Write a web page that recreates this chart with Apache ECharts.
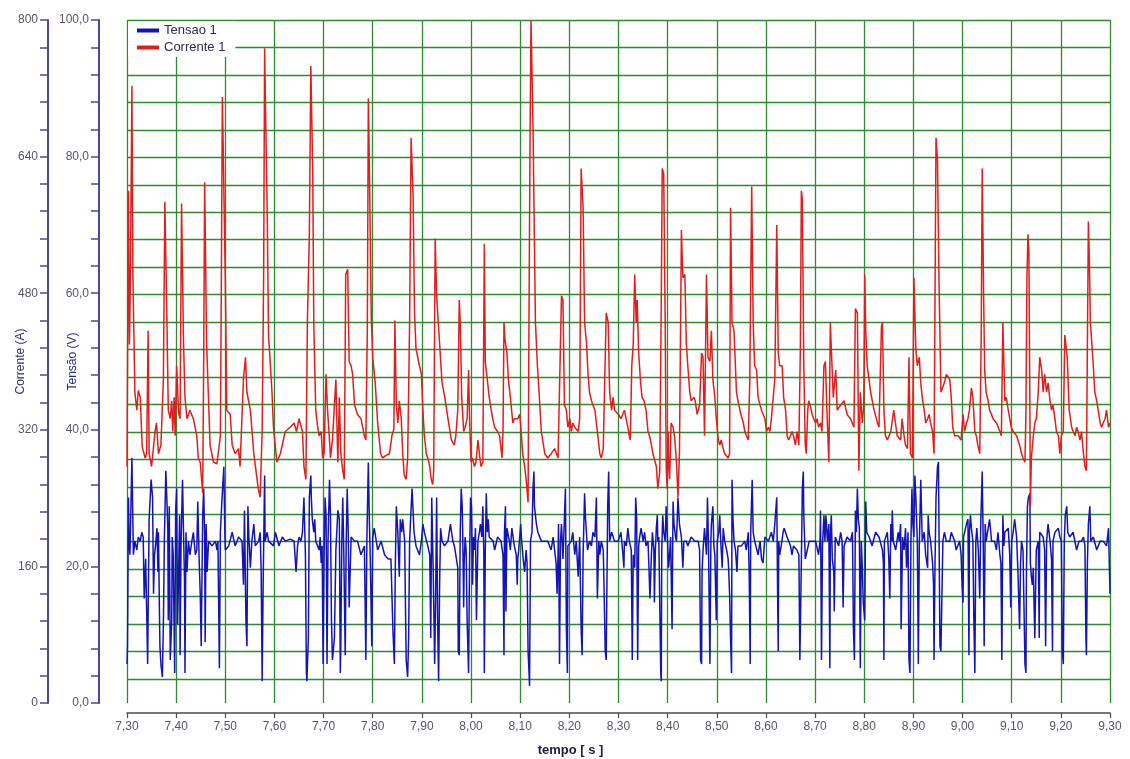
<!DOCTYPE html>
<html><head><meta charset="utf-8">
<script src="https://cdn.jsdelivr.net/npm/echarts@6/dist/echarts.min.js"></script>
<style>html,body{margin:0;padding:0;background:#fff}#c{width:1130px;height:759px}</style>
</head><body><div id="c"></div>
<script>
const timeMin = 7.30, timeMax = 9.30, timeStep = 0.10;
const tensaoMin = 0, tensaoMax = 100, tensaoStep = 20;
const correnteMin = 0, correnteMax = 800, correnteStep = 160;
const seriesNames = ['Tensao 1', 'Corrente 1'];

const correnteTime = [
7.300,7.303,7.305,7.307,7.310,7.312,7.316,7.320,7.323,7.327,7.331,7.337,7.340,7.343,7.345,7.350,7.357,7.360,7.364,7.369,
7.374,7.377,7.381,7.384,7.388,7.391,7.393,7.396,7.398,7.401,7.405,7.408,7.411,7.415,7.418,7.422,7.428,7.435,7.442,7.445,
7.449,7.454,7.456,7.458,7.462,7.469,7.476,7.483,7.490,7.492,7.494,7.496,7.500,7.503,7.510,7.514,7.520,7.527,7.530,7.537,
7.541,7.544,7.551,7.558,7.567,7.571,7.575,7.578,7.580,7.582,7.585,7.588,7.595,7.598,7.605,7.612,7.622,7.632,
7.640,7.645,7.650,7.657,7.660,7.664,7.667,7.671,7.674,7.675,7.678,7.680,7.684,7.688,7.691,7.695,7.698,7.701,7.705,7.708,
7.711,7.714,7.718,7.725,7.729,7.732,7.735,7.739,7.742,7.745,7.749,7.752,7.756,7.759,7.763,7.769,7.776,7.783,7.786,7.789,
7.791,7.793,7.797,7.800,7.805,7.809,7.810,7.816,7.820,7.827,7.834,7.839,7.843,7.845,7.848,7.851,7.854,7.858,7.861,7.864,
7.868,7.871,7.875,7.878,7.882,7.885,7.888,7.895,7.899,7.902,7.905,7.909,7.912,7.916,7.919,7.922,7.924,7.927,7.930,7.936,
7.941,7.946,7.953,7.960,
7.966,7.969,7.973,7.976,7.978,7.981,7.985,7.988,7.992,7.995,7.997,8.000,8.003,8.007,8.010,8.014,8.017,8.020,8.024,8.027,
8.029,8.033,8.037,8.041,8.044,8.048,8.054,8.058,8.063,8.065,8.067,8.069,8.073,8.076,8.080,8.085,8.088,8.095,8.099,8.102,
8.105,8.109,8.112,8.116,8.118,8.120,8.122,8.126,8.129,8.131,8.135,8.139,8.143,8.150,8.156,8.163,8.170,8.177,8.184,8.187,
8.190,8.194,8.197,8.201,8.204,8.207,8.211,8.218,8.221,8.224,8.228,8.231,8.235,8.238,8.241,8.245,8.248,8.252,8.258,8.262,
8.265,8.269,8.272,8.275,8.279,8.282,8.286,8.289,8.292,
8.300,8.305,8.312,8.319,8.322,8.324,8.327,8.330,8.333,8.336,8.338,8.341,8.345,8.348,8.352,8.356,8.360,8.363,8.367,8.370,
8.373,8.377,8.380,8.384,8.387,8.389,8.392,8.395,8.397,8.399,8.401,8.402,8.404,8.407,8.411,8.414,8.418,8.421,8.424,8.428,
8.431,8.435,8.438,8.441,8.445,8.448,8.454,8.456,8.460,8.465,8.469,8.472,8.475,8.479,8.482,8.486,8.489,8.492,8.496,8.499,
8.503,8.506,8.509,8.513,8.516,8.523,8.526,8.528,8.531,8.535,8.540,8.543,8.549,8.554,8.557,8.560,8.564,8.567,8.571,8.574,
8.577,8.581,8.584,8.588,8.591,8.598,8.601,8.605,8.608,8.611,8.618,8.622,8.625,8.628,
8.633,8.636,8.640,8.643,8.646,8.650,8.653,8.656,8.660,8.663,8.667,8.670,8.672,8.674,8.677,8.680,8.682,8.685,8.687,8.690,
8.694,8.697,8.701,8.704,8.707,8.711,8.714,8.718,8.721,8.724,8.728,8.731,8.733,8.737,8.739,8.742,8.745,8.752,8.759,8.765,
8.772,8.779,8.782,8.786,8.789,8.792,8.796,8.799,8.801,8.803,8.806,8.813,8.820,8.827,8.830,8.835,8.837,8.840,8.843,8.847,
8.854,8.860,8.867,8.874,8.877,8.881,8.884,8.888,8.891,8.894,8.898,8.901,8.905,8.908,8.912,8.915,8.918,8.922,8.925,8.929,
8.932,8.935,8.939,8.942,8.946,8.949,8.952,8.956,
8.960,8.963,8.967,8.970,8.974,8.977,8.980,8.984,8.991,8.994,8.997,9.001,9.004,9.008,9.011,9.014,9.018,9.021,9.025,9.028,
9.031,9.035,9.038,9.040,9.043,9.045,9.048,9.052,9.055,9.059,9.062,9.069,9.076,9.079,9.082,9.086,9.089,9.093,9.096,9.099,
9.103,9.110,9.116,9.120,9.123,9.127,9.129,9.131,9.133,9.135,9.137,9.138,9.140,9.144,9.147,9.150,9.154,9.157,9.161,9.164,
9.167,9.171,9.174,9.178,9.181,9.184,9.188,9.191,9.195,9.198,9.201,9.205,9.208,9.210,9.213,9.217,9.222,9.225,9.229,9.232,
9.235,9.239,9.242,9.246,9.249,9.252,9.256,9.258,9.260,9.263,9.266,9.269,9.273,9.276,9.280,9.283,9.286,9.290,9.293,9.297,
9.300
];
const corrente = [
277,600,420,500,723,502,364,343,366,358,300,287,292,436,292,277,318,328,292,302,
379,587,457,343,333,354,318,358,313,395,340,333,585,421,358,333,343,333,313,287,
282,246,400,610,421,302,282,280,313,500,710,640,498,343,338,302,292,298,277,380,
405,364,343,292,251,241,320,500,767,690,587,431,364,323,282,292,318,323,
328,318,333,318,277,262,446,549,746,716,615,446,343,323,313,318,287,292,385,343,
318,287,308,379,282,358,292,272,262,502,508,400,395,385,349,338,333,313,308,440,
708,636,452,405,375,375,328,292,287,290,292,313,321,448,349,328,354,333,292,267,
262,287,446,662,595,457,415,395,385,343,313,292,287,277,262,256,272,544,477,421,
375,360,333,308,
302,313,343,472,446,358,318,323,333,390,333,282,287,277,282,308,292,277,282,538,
400,379,358,343,333,323,318,313,287,318,446,426,410,379,358,328,333,333,338,318,
292,277,262,235,466,657,800,678,538,446,395,358,318,292,287,292,298,287,477,472,
349,343,323,333,318,328,323,318,333,626,580,446,421,385,364,354,349,343,313,292,
287,298,379,457,446,364,343,358,343,
338,333,343,323,313,308,395,421,502,446,472,410,375,358,354,343,318,313,302,292,
292,277,251,272,472,626,620,446,277,251,318,282,262,328,323,313,282,241,292,554,
498,502,421,395,364,354,358,354,338,349,410,405,313,502,405,400,436,379,358,333,
308,302,308,298,292,287,292,580,446,436,364,354,338,328,318,313,308,375,605,446,
395,390,358,349,343,333,318,323,318,333,379,560,410,395,
395,358,343,313,308,313,318,313,302,318,302,415,600,590,395,302,292,343,354,349,
338,333,328,333,323,328,318,395,400,343,282,446,415,358,358,390,343,349,354,338,
333,323,462,457,272,364,328,349,502,436,395,364,343,328,323,441,446,343,313,308,
318,343,313,308,333,313,302,298,405,292,287,498,415,395,405,375,358,343,328,333,
338,328,318,292,662,636,498,364,
364,375,385,385,379,358,323,313,313,313,308,338,318,328,333,343,369,358,318,313,
302,292,431,626,472,390,364,354,343,338,333,328,318,313,446,354,358,343,343,323,
318,313,302,292,287,282,343,498,549,528,343,230,287,313,328,333,364,405,390,364,
385,364,375,354,343,349,333,318,313,292,313,318,431,431,405,343,323,318,313,323,
318,308,318,292,277,272,564,518,446,421,395,364,354,343,328,323,328,333,343,323,
328
];

const tensaoTime = [
7.300,7.301,7.303,7.304,7.306,7.310,7.313,7.316,7.320,7.323,7.327,7.330,7.333,7.335,7.338,7.342,7.345,7.349,7.352,7.354,
7.356,7.358,7.361,7.363,7.364,7.366,7.367,7.369,7.372,7.374,7.376,7.379,7.381,7.383,7.384,7.386,7.388,7.391,7.392,7.394,
7.397,7.399,7.401,7.403,7.405,7.407,7.408,7.410,7.413,7.415,7.417,7.418,7.420,7.422,7.425,7.428,7.432,7.435,7.439,7.442,
7.444,7.447,7.449,7.451,7.454,7.456,7.458,7.459,7.461,7.463,7.466,7.473,7.480,7.483,7.485,7.488,7.490,7.493,7.497,7.499,
7.500,7.507,7.514,7.520,7.527,7.534,7.537,7.539,7.542,7.544,7.546,7.548,7.551,7.554,7.558,7.561,7.568,7.571,7.573,7.575,
7.577,7.580,7.581,7.585,7.588,7.598,7.602,7.609,7.616,7.622,7.632,
7.640,7.644,7.647,7.650,7.654,7.657,7.660,7.663,7.665,7.666,7.669,7.671,7.674,7.675,7.677,7.680,7.682,7.684,7.691,7.693,
7.695,7.697,7.699,7.701,7.703,7.705,7.707,7.709,7.712,7.714,7.716,7.718,7.722,7.725,7.729,7.732,7.734,7.735,7.737,7.739,
7.741,7.744,7.746,7.748,7.750,7.752,7.756,7.763,7.769,7.776,7.783,7.786,7.788,7.791,7.793,7.795,7.798,7.800,7.803,7.810,
7.817,7.824,7.831,7.837,7.841,7.844,7.846,7.848,7.851,7.854,7.856,7.859,7.861,7.865,7.866,7.868,7.871,7.873,7.875,7.877,
7.880,7.882,7.884,7.888,7.895,7.899,7.902,7.905,7.912,7.916,7.918,7.920,7.923,7.926,7.928,7.930,7.932,7.934,7.936,7.938,
7.941,7.946,7.953,7.958,
7.963,7.966,7.969,7.973,7.974,7.976,7.978,7.980,7.982,7.983,7.985,7.986,7.988,7.990,7.992,7.995,7.997,7.999,8.001,8.003,
8.005,8.007,8.009,8.011,8.014,8.017,8.019,8.022,8.024,8.026,8.027,8.029,8.031,8.033,8.035,8.037,8.041,8.045,8.048,8.054,
8.061,8.065,8.067,8.068,8.070,8.071,8.073,8.078,8.080,8.083,8.088,8.092,8.094,8.095,8.097,8.101,8.103,8.106,8.109,8.112,
8.114,8.116,8.118,8.119,8.121,8.124,8.126,8.128,8.129,8.133,8.136,8.143,8.150,8.156,8.163,8.167,8.173,8.175,8.177,8.178,
8.180,8.182,8.184,8.187,8.189,8.192,8.194,8.196,8.197,8.204,8.207,8.211,8.214,8.218,8.221,8.224,8.226,8.228,8.231,8.233,
8.237,8.241,8.245,8.248,8.252,8.255,8.257,8.260,8.262,8.265,8.269,8.271,8.273,8.275,8.278,8.280,8.282,8.286,8.292,
8.299,8.302,8.305,8.309,8.311,8.312,8.316,8.319,8.322,8.326,8.328,8.330,8.333,8.335,8.337,8.339,8.341,8.343,8.346,8.350,
8.353,8.356,8.360,8.362,8.364,8.367,8.369,8.372,8.373,8.375,8.377,8.379,8.380,8.382,8.386,8.387,8.388,8.390,8.392,8.395,
8.397,8.399,8.402,8.404,8.406,8.409,8.411,8.413,8.416,8.418,8.421,8.424,8.428,8.431,8.433,8.438,8.441,8.448,8.455,8.462,
8.465,8.467,8.469,8.470,8.472,8.475,8.479,8.481,8.483,8.486,8.488,8.489,8.492,8.494,8.496,8.499,8.501,8.504,8.506,8.508,
8.511,8.513,8.516,8.520,8.523,8.524,8.526,8.528,8.530,8.531,8.533,8.535,8.538,8.541,8.543,8.550,8.557,8.560,8.564,8.566,
8.568,8.569,8.572,8.574,8.577,8.584,8.588,8.591,8.594,8.598,8.605,8.611,8.615,8.618,8.622,8.624,8.625,8.626,
8.628,8.631,8.635,8.637,8.643,8.650,8.653,8.656,8.663,8.667,8.669,8.670,8.672,8.674,8.676,8.677,8.680,8.682,8.688,8.694,
8.701,8.707,8.710,8.711,8.713,8.715,8.718,8.720,8.722,8.725,8.728,8.730,8.731,8.733,8.735,8.738,8.739,8.741,8.748,8.752,
8.755,8.757,8.759,8.765,8.772,8.776,8.778,8.780,8.782,8.784,8.786,8.788,8.790,8.792,8.794,8.796,8.798,8.801,8.803,8.805,
8.810,8.816,8.823,8.830,8.837,8.839,8.840,8.841,8.847,8.850,8.852,8.854,8.856,8.857,8.859,8.864,8.869,8.871,8.874,8.875,
8.878,8.881,8.884,8.886,8.889,8.891,8.893,8.895,8.897,8.899,8.901,8.903,8.905,8.908,8.910,8.912,8.915,8.918,8.922,8.925,
8.929,8.930,8.932,8.935,8.939,8.941,8.942,8.944,8.946,8.949,8.951,8.954,8.956,
8.960,8.963,8.967,8.974,8.977,8.984,8.987,8.994,8.997,8.999,9.001,9.002,9.008,9.011,9.013,9.014,9.016,9.018,9.021,9.023,
9.025,9.027,9.029,9.032,9.035,9.037,9.040,9.042,9.044,9.046,9.048,9.055,9.059,9.065,9.069,9.072,9.076,9.078,9.080,9.082,
9.084,9.086,9.093,9.096,9.098,9.100,9.103,9.106,9.110,9.113,9.115,9.116,9.118,9.120,9.123,9.127,9.129,9.130,9.132,9.134,
9.137,9.138,9.140,9.142,9.144,9.147,9.150,9.154,9.156,9.157,9.164,9.167,9.169,9.171,9.174,9.178,9.181,9.183,9.184,9.188,
9.195,9.198,9.201,9.203,9.205,9.207,9.209,9.212,9.214,9.218,9.225,9.232,9.237,9.242,9.246,9.249,9.251,9.252,9.254,9.256,
9.259,9.261,9.266,9.273,9.280,9.286,9.293,9.297,9.300
];
const tensao = [
5.7,8.3,30.1,24.3,21.7,35.9,21.7,23.7,22.4,24.3,23.7,25.0,24.3,15.3,21.1,5.7,26.9,32.7,30.1,16.0,
21.7,23.0,25.6,19.2,25.0,13.4,8.3,5.7,3.8,11.5,23.7,34.0,30.1,25.6,12.1,28.8,6.3,12.1,24.3,21.7,
4.4,28.2,31.4,11.5,19.2,27.5,7.0,23.7,32.7,25.0,17.9,4.4,25.0,19.2,23.7,21.7,23.7,25.0,21.7,22.4,
29.5,20.5,16.0,8.3,27.5,31.4,24.3,8.9,26.2,19.2,23.7,23.0,23.7,22.4,23.7,5.1,25.0,29.5,34.6,25.0,
22.4,23.0,25.0,23.0,24.3,23.7,17.3,28.2,12.1,8.3,28.8,24.3,19.8,23.7,26.2,23.0,23.7,25.0,19.2,3.2,
17.3,33.3,23.7,25.0,23.7,23.0,25.0,23.0,24.3,23.7,24.0,
23.7,19.2,23.0,24.3,23.7,25.0,30.1,21.7,4.4,3.2,9.5,30.1,33.3,30.1,26.9,25.0,26.9,23.7,22.4,24.3,
20.5,23.0,5.7,21.7,30.1,27.5,5.7,23.7,32.7,27.5,12.1,6.3,9.5,22.4,28.2,26.9,4.4,8.3,23.7,30.1,
22.4,7.0,23.7,31.4,25.6,14.0,24.3,23.7,23.7,21.7,23.0,6.3,23.7,35.2,26.9,21.1,8.3,24.3,25.6,22.4,
23.7,21.7,21.1,21.1,10.8,5.7,20.5,28.8,25.0,18.5,26.9,25.0,26.9,23.7,17.3,6.3,3.8,9.5,23.7,26.9,
31.4,28.2,25.0,23.0,21.7,23.7,26.2,25.0,23.0,21.7,9.5,30.1,19.2,5.7,16.0,30.1,12.1,3.2,17.3,25.6,
23.7,23.0,23.7,26.2,
23.7,23.0,21.7,19.8,7.6,7.0,25.0,31.4,28.8,25.0,14.0,20.5,24.3,22.4,12.1,4.4,21.1,30.1,28.8,17.3,
24.3,22.4,25.6,12.1,23.7,25.0,26.2,24.3,28.8,21.7,4.4,22.4,30.7,25.0,26.9,24.3,24.3,23.7,22.4,24.3,
23.7,21.7,7.0,25.0,28.8,13.4,25.6,23.7,22.4,25.6,23.0,21.7,17.3,21.1,22.4,26.2,23.7,21.1,19.2,22.4,
20.5,7.6,4.4,2.5,23.7,25.0,31.4,33.9,28.8,26.2,25.0,23.7,23.7,23.7,22.4,24.3,20.5,16.0,21.7,26.2,
5.7,23.7,26.2,21.1,25.0,31.4,10.8,4.4,23.0,23.7,25.0,21.7,23.7,18.5,24.3,10.8,7.0,21.7,30.7,26.9,
22.4,23.7,23.0,25.0,24.3,30.1,15.3,23.7,21.7,23.7,22.4,15.3,7.6,6.3,28.8,33.9,23.7,25.0,23.7,
23.7,24.3,25.0,21.7,19.8,23.7,23.0,25.6,23.7,22.4,6.3,21.7,19.8,30.1,26.9,6.3,23.0,24.3,25.6,23.7,
25.0,23.0,23.7,19.8,15.3,21.7,25.0,22.4,14.7,22.4,25.6,27.5,23.7,24.3,4.4,3.2,22.4,27.5,25.0,23.7,
28.8,25.0,19.8,21.7,24.3,10.8,29.5,26.2,24.3,23.7,30.1,26.2,24.3,19.8,23.7,23.7,23.0,24.3,23.7,23.7,
22.4,6.3,5.7,19.2,22.4,25.6,21.7,30.1,23.7,5.7,23.7,26.2,28.8,23.0,21.7,12.1,23.7,25.0,27.5,23.7,
19.8,25.6,23.7,22.4,21.1,19.8,16.0,9.5,4.4,32.7,26.9,23.7,22.4,19.2,23.0,23.0,23.7,22.4,25.0,18.5,
5.7,25.0,32.7,25.0,23.7,21.7,23.7,21.1,20.5,24.3,23.7,25.0,23.7,26.2,30.1,14.0,7.6,23.7,
21.7,23.0,25.0,25.6,24.3,23.0,21.7,23.0,22.4,21.7,6.3,10.8,20.5,31.4,33.9,27.5,21.1,21.7,23.7,23.7,
23.7,21.7,23.7,28.2,6.3,23.0,27.5,23.7,27.5,23.7,26.2,5.1,24.3,27.5,21.1,19.2,13.4,24.3,23.0,25.0,
23.7,14.0,23.0,24.3,23.7,25.0,10.8,6.3,28.2,25.0,31.4,26.9,25.6,5.1,23.7,19.8,14.7,12.1,29.5,25.0,
24.3,23.0,25.0,24.3,22.4,20.5,6.3,23.7,25.0,21.1,15.3,26.2,23.7,28.2,23.7,22.4,25.0,23.7,26.2,10.8,
24.3,22.4,25.6,19.8,25.0,6.3,4.4,23.7,31.4,26.2,24.3,33.3,30.1,23.7,5.7,23.0,32.7,23.7,25.0,21.7,
19.8,27.5,25.0,23.7,20.5,17.3,6.3,20.5,30.1,34.6,35.3,8.3,7.6,
23.7,25.0,23.7,23.7,25.0,23.7,22.4,23.7,21.7,17.3,14.7,24.3,26.2,26.9,7.0,25.0,27.5,25.6,23.7,12.1,
4.4,23.7,25.6,22.4,15.3,26.2,33.9,23.7,8.3,26.2,23.7,26.9,23.7,23.7,22.4,25.0,21.7,20.5,6.3,27.5,
23.0,25.0,25.6,21.7,14.0,23.7,25.0,26.9,24.3,18.5,13.4,10.8,20.5,23.7,22.4,5.7,4.4,19.2,28.8,30.1,
30.7,20.5,18.5,17.3,19.8,9.5,22.4,23.7,9.5,25.0,24.3,22.4,8.3,23.7,26.2,23.7,21.1,7.6,23.7,25.0,
25.6,24.3,23.7,7.6,5.7,23.7,27.5,28.8,25.0,24.3,25.0,22.4,23.7,23.7,24.3,23.0,9.5,7.0,20.5,26.2,
28.8,23.7,24.3,22.4,23.7,23.7,23.0,25.6,16.0
];

function zip(xs, ys) { return xs.map((x, i) => [x, ys[i]]); }
const comma = (v, d) => v.toFixed(d).replace('.', ',');

const FONT = 'Liberation Sans';
const GREEN = '#2f8a2f';
const AXIS = '#4a4a9c';
const BLUE = '#1414b4';
const RED = '#e01e1e';

const chart = echarts.init(document.getElementById('c'), null, {renderer: 'canvas'});
chart.setOption({
  animation: false,
  backgroundColor: '#ffffff',
  textStyle: {fontFamily: FONT},
  grid: [
    {left: 127, right: 20, top: 20, bottom: 56, containLabel: false, outerBoundsMode: 'none'},
    {left: 127, right: 20, top: 20, bottom: 80, containLabel: false, outerBoundsMode: 'none'}
  ],
  legend: {
    data: seriesNames,
    left: 128, top: 21, orient: 'vertical',
    icon: 'rect', itemWidth: 22, itemHeight: 4, itemGap: 4,
    padding: [3, 10, 3, 9],
    backgroundColor: '#ffffff',
    textStyle: {fontSize: 13, color: '#2a2a5c', fontFamily: FONT}
  },
  xAxis: [
    {
      gridIndex: 0, type: 'value', min: timeMin, max: timeMax, interval: timeStep,
      offset: 10,
      axisLine: {show: true, onZero: false, lineStyle: {color: '#4a4a5a', width: 1.5}},
      axisTick: {show: true, length: 5, lineStyle: {color: '#4a4a5a', width: 1.2}},
      axisLabel: {margin: 8, color: '#55556a', fontSize: 12, formatter: v => comma(v, 2)},
      splitLine: {show: true, lineStyle: {color: GREEN, width: 1.3}},
      name: 'tempo [ s ]', nameLocation: 'middle', nameGap: 31, nameMoveOverlap: false,
      nameTextStyle: {fontWeight: 'bold', fontSize: 13, color: '#1c1c3c', padding: [0, 96, 0, 0]}
    },
    {gridIndex: 1, type: 'value', min: 0, max: 1, show: false}
  ],
  yAxis: [
    {
      gridIndex: 0, type: 'value', position: 'left', offset: 28,
      min: tensaoMin, max: tensaoMax, interval: tensaoStep,
      name: 'Tensão (V)', nameLocation: 'middle', nameGap: 20, nameMoveOverlap: false,
      nameTextStyle: {color: '#2a2a7a', fontSize: 12},
      axisLine: {show: true, onZero: false, lineStyle: {color: AXIS, width: 2}},
      axisTick: {show: true, length: 8, lineStyle: {color: AXIS, width: 1.5}},
      minorTick: {show: true, splitNumber: 5, length: 8, lineStyle: {color: AXIS, width: 1.5}},
      axisLabel: {margin: 10, color: '#55556a', fontSize: 12, formatter: v => comma(v, 1)},
      splitLine: {show: false}
    },
    {
      gridIndex: 0, type: 'value', position: 'left', offset: 79,
      min: correnteMin, max: correnteMax, interval: correnteStep,
      name: 'Corrente (A)', nameLocation: 'middle', nameGap: 21, nameMoveOverlap: false,
      nameTextStyle: {color: '#2a2a7a', fontSize: 12},
      axisLine: {show: true, onZero: false, lineStyle: {color: AXIS, width: 2}},
      axisTick: {show: true, length: 8, lineStyle: {color: AXIS, width: 1.5}},
      minorTick: {show: true, splitNumber: 5, length: 8, lineStyle: {color: AXIS, width: 1.5}},
      axisLabel: {margin: 10, color: '#55556a', fontSize: 12},
      splitLine: {show: false}
    },
    {
      gridIndex: 1, type: 'value', min: 0, max: 24, interval: 1,
      axisLine: {show: false}, axisTick: {show: false}, axisLabel: {show: false},
      splitLine: {show: true, lineStyle: {color: GREEN, width: 1.3}}
    }
  ],
  series: [
    {
      name: seriesNames[0], type: 'line', xAxisIndex: 0, yAxisIndex: 0,
      data: zip(tensaoTime, tensao), symbol: 'none', showSymbol: false,
      lineStyle: {color: BLUE, width: 1.5}, itemStyle: {color: BLUE}
    },
    {
      name: seriesNames[1], type: 'line', xAxisIndex: 0, yAxisIndex: 1,
      data: zip(correnteTime, corrente), symbol: 'none', showSymbol: false,
      lineStyle: {color: RED, width: 1.5}, itemStyle: {color: RED}
    }
  ]
});
</script>
</body></html>
